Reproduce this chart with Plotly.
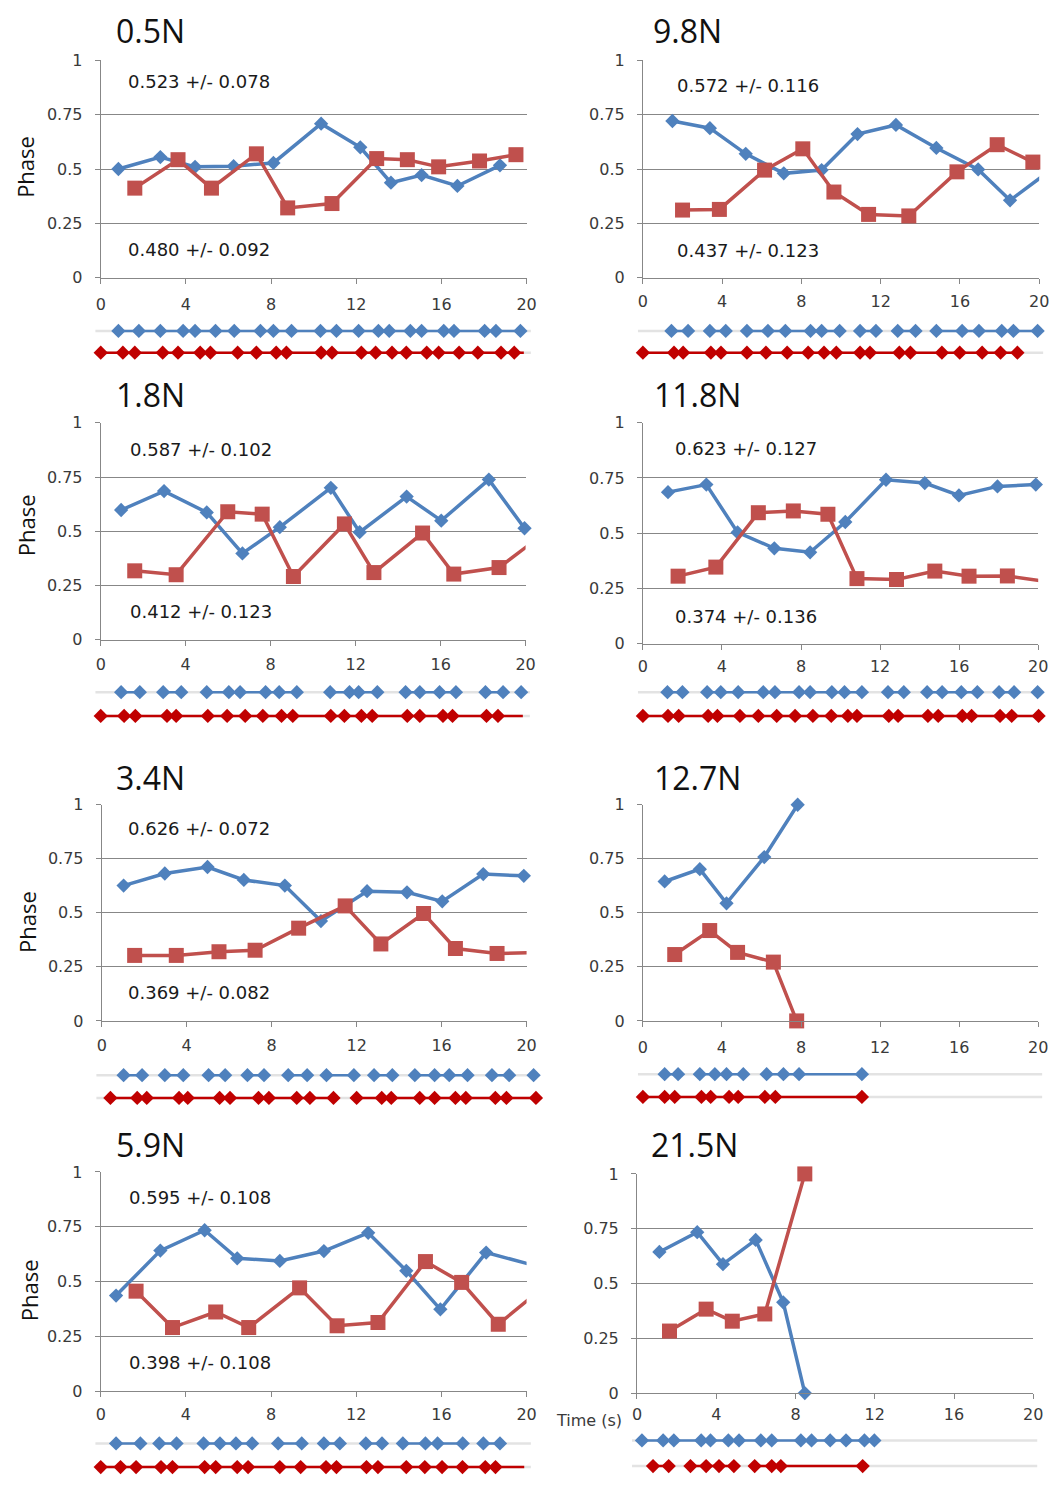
import plotly.graph_objects as go

# The page is 1062x1485; the browser adds an 8px body margin, so the figure starts at
# (8, 8) and every reference pixel position is shifted by that margin.
PAGE_W, PAGE_H = 1062, 1485
MARGIN = 8
W, H = PAGE_W - MARGIN, PAGE_H - MARGIN

BLUE = "#4F81BD"
RED = "#C0504D"
DRED = "#C00000"
GRID = "#878787"
STRIPGRAY = "#E3E3E3"
TICKFONT = dict(family="DejaVu Sans", size=16, color="#3a3a3a")

# ---------------- data (time in s, phase) ----------------
# 0.5N
A_bt = [0.83, 2.80, 4.43, 6.24, 8.11, 10.35, 12.19, 13.63, 15.07, 16.75, 18.75]
A_bv = [0.50, 0.555, 0.51, 0.513, 0.528, 0.709, 0.60, 0.437, 0.472, 0.422, 0.517]
A_rt = [1.6, 3.63, 5.2, 7.31, 8.78, 10.86, 12.96, 14.4, 15.87, 17.79, 19.5]
A_rv = [0.412, 0.543, 0.412, 0.570, 0.321, 0.341, 0.548, 0.543, 0.51, 0.537, 0.566]
A_sb = [0.83, 1.79, 2.8, 3.87, 4.43, 5.39, 6.27, 7.5, 8.11, 8.96, 10.32, 11.07, 12.11,
        13.04, 13.55, 14.54, 15.07, 16.11, 16.59, 18.03, 18.56, 19.71]
A_sr = [0, 1.04, 1.6, 2.91, 3.63, 4.67, 5.15, 6.43, 7.31, 8.24, 8.72, 10.35, 10.86, 12.24,
        12.91, 13.68, 14.35, 15.31, 15.87, 16.83, 17.71, 18.8, 19.42]
A_sr_end = 19.87

# 9.8N
B_bt = [1.49, 3.38, 5.19, 7.11, 9.02, 10.83, 12.77, 14.81, 16.92, 18.53, 20.5]
B_bv = [0.721, 0.688, 0.570, 0.480, 0.495, 0.661, 0.703, 0.597, 0.498, 0.356, 0.49]
B_rt = [2.0, 3.86, 6.14, 8.07, 9.64, 11.39, 13.42, 15.85, 17.88, 19.68]
B_rv = [0.311, 0.314, 0.495, 0.593, 0.394, 0.291, 0.284, 0.487, 0.612, 0.532]
B_sb = [1.44, 2.28, None, 3.38, 4.18, None, 5.25, 6.31, 7.19, 8.46, 9.02, 9.93, None,
        10.96, 11.76, None, 12.86, 13.76, None, 14.81, 16.11, 16.96, 18.11, 18.7, 19.92]
B_sr = [0, 1.57, 2.03, 3.43, 3.94, 5.25, 6.21, 7.28, 8.34, 9.14, 9.76, 10.96, 11.46,
        12.94, 13.5, 15.09, 15.99, 17.12, 18.05, 18.9]

# 1.8N
C_bt = [0.96, 2.98, 4.99, 6.67, 8.43, 10.83, 12.19, 14.4, 16.03, 18.27, 19.95]
C_bv = [0.598, 0.685, 0.587, 0.398, 0.519, 0.700, 0.496, 0.660, 0.549, 0.738, 0.514]
C_rt = [1.6, 3.55, 5.98, 7.6, 9.07, 11.47, 12.86, 15.15, 16.62, 18.75, 20.6]
C_rv = [0.318, 0.300, 0.590, 0.579, 0.292, 0.534, 0.310, 0.492, 0.303, 0.333, 0.47]
C_sb = [0.96, 1.84, None, 2.94, 3.79, None, 4.99, 6.03, 6.56, 7.76, 8.4, 9.23, None,
        10.8, 11.71, 12.14, 13.02, None, 14.35, 15.02, 15.95, 16.72, None, 18.11, 18.94,
        None, 19.79]
C_sr = [0, 1.1, 1.63, 3.12, 3.55, 5.04, 5.95, 6.8, 7.63, 8.51, 9.04, 10.83, 11.47, 12.27,
        12.78, 14.43, 15.02, 16.11, 16.56, 18.16, 18.7]
C_sr_end = 19.87

# 11.8N
D_bt = [1.27, 3.21, 4.79, 6.65, 8.46, 10.24, 12.3, 14.26, 15.99, 17.94, 19.88]
D_bv = [0.686, 0.720, 0.504, 0.432, 0.414, 0.551, 0.742, 0.727, 0.671, 0.712, 0.720]
D_rt = [1.78, 3.69, 5.84, 7.61, 9.36, 10.83, 12.83, 14.77, 16.5, 18.44, 20.5]
D_rv = [0.306, 0.347, 0.593, 0.601, 0.586, 0.295, 0.291, 0.329, 0.306, 0.307, 0.28]
D_sb = [1.24, 2.0, None, 3.25, 3.94, 4.82, 6.09, 6.68, 7.9, 8.46, 9.56, 10.2, 11.08, None,
        12.4, 13.2, None, 14.38, 15.14, 16.11, 16.92, None, 18.02, 18.78, None, 19.97]
D_sr = [0, 1.27, 1.81, 3.3, 3.77, 4.91, 5.84, 6.77, 7.7, 8.6, 9.53, 10.37, 10.83, 12.44,
        12.91, 14.42, 14.94, 16.16, 16.63, 18.07, 18.66, 20.02]

# 3.4N
E_bt = [1.03, 2.97, 4.98, 6.69, 8.62, 10.32, 12.49, 14.37, 16.03, 17.96, 19.87]
E_bv = [0.626, 0.682, 0.712, 0.652, 0.626, 0.462, 0.600, 0.595, 0.553, 0.679, 0.671]
E_rt = [1.55, 3.51, 5.52, 7.22, 9.27, 11.46, 13.14, 15.15, 16.65, 18.61, 20.6]
E_rv = [0.303, 0.303, 0.320, 0.327, 0.429, 0.532, 0.356, 0.497, 0.335, 0.312, 0.316]
E_sb = [1.03, 1.9, None, 2.97, 3.84, None, 5.03, 5.81, None, 6.86, 7.64, None, 8.78, 9.67,
        None, 10.58, 11.87, None, 12.82, 13.68, None, 14.74, 15.67, 16.36, 17.22, None,
        18.37, 19.18, None, 20.33]
E_sr = [0.41, 1.67, 2.12, 3.64, 4.05, 5.55, 6.04, 7.38, 7.87, 9.18, 9.8, 10.91, None, 12.0,
        13.18, 13.63, 14.97, 15.67, 16.65, 17.14, 18.53, 19.05, 20.44]

# 12.7N
F_bt = [1.1, 2.88, 4.23, 6.14, 7.83]
F_bv = [0.645, 0.702, 0.544, 0.758, 1.0]
F_rt = [1.61, 3.38, 4.79, 6.6, 7.78]
F_rv = [0.307, 0.418, 0.317, 0.272, 0.0]
F_sb = [1.1, 1.78, None, 2.88, 3.64, 4.23, 5.08, None, 6.26, 7.11, 7.9, 11.08]
F_sr = [0, 1.1, 1.61, 2.96, 3.43, 4.36, 4.82, 6.17, 6.7, 11.08]

# 5.9N
G_bt = [0.72, 2.8, 4.88, 6.41, 8.41, 10.48, 12.56, 14.35, 15.95, 18.1, 20.5]
G_bv = [0.436, 0.641, 0.734, 0.606, 0.594, 0.639, 0.722, 0.549, 0.373, 0.632, 0.57]
G_rt = [1.66, 3.37, 5.4, 6.95, 9.34, 11.1, 13.02, 15.25, 16.95, 18.67, 20.5]
G_rv = [0.456, 0.290, 0.361, 0.290, 0.471, 0.298, 0.313, 0.591, 0.496, 0.305, 0.45]
G_sb = [0.72, 1.86, None, 2.75, 3.56, None, 4.83, 5.6, 6.35, 7.11, None, 8.33, 9.44, None,
        10.48, 11.23, None, 12.45, 13.21, None, 14.19, 15.25, 15.82, 17.0, None, 17.97, 18.75]
G_sr = [0, 0.93, 1.66, 2.83, 3.37, 4.88, 5.4, 6.41, 6.92, 8.41, 9.39, 10.58, 11.07, 12.48,
        13.02, 14.35, 15.22, 16.03, 16.99, 18.06, 18.54]
G_sr_end = 19.89

# 21.5N
H_bt = [1.13, 3.04, 4.34, 5.99, 7.38, 8.47]
H_bv = [0.644, 0.734, 0.588, 0.699, 0.414, 0.0]
H_rt = [1.64, 3.49, 4.81, 6.45, 8.47]
H_rv = [0.283, 0.383, 0.328, 0.361, 1.0]
H_sb = [0.25, 1.32, 1.86, 3.24, 3.71, 4.61, 5.15, 6.25, 6.8, 8.27, 8.81, 9.75, 10.55,
        11.48, 11.98]
H_sr = [0.81, 1.6, None, 2.7, 3.49, 4.14, 4.89, None, 5.94, 6.8, 7.26, 11.39]

titles = ["0.5N", "9.8N", "1.8N", "11.8N", "3.4N", "12.7N", "5.9N", "21.5N"]
stats_top = ["0.523 +/- 0.078", "0.572 +/- 0.116", "0.587 +/- 0.102", "0.623 +/- 0.127",
             "0.626 +/- 0.072", None, "0.595 +/- 0.108", None]
stats_bot = ["0.480 +/- 0.092", "0.437 +/- 0.123", "0.412 +/- 0.123", "0.374 +/- 0.136",
             "0.369 +/- 0.082", None, "0.398 +/- 0.108", None]
x_ticks = [0, 4, 8, 12, 16, 20]
y_ticks = [0, 0.25, 0.5, 0.75, 1]
y_ticktext = ["0", "0.25", "0.5", "0.75", "1"]

# ---------------- layout geometry (page pixels) ----------------
series = [
    (A_bt, A_bv, A_rt, A_rv, A_sb, A_sr, None, A_sr_end),
    (B_bt, B_bv, B_rt, B_rv, B_sb, B_sr, None, None),
    (C_bt, C_bv, C_rt, C_rv, C_sb, C_sr, None, C_sr_end),
    (D_bt, D_bv, D_rt, D_rv, D_sb, D_sr, None, None),
    (E_bt, E_bv, E_rt, E_rv, E_sb, E_sr, None, None),
    (F_bt, F_bv, F_rt, F_rv, F_sb, F_sr, None, None),
    (G_bt, G_bv, G_rt, G_rv, G_sb, G_sr, None, G_sr_end),
    (H_bt, H_bv, H_rt, H_rv, H_sb, H_sr, None, None),
]
# (x0, x20, y1, y0) plot box, strip rows (blue y, red y), x-label standoff
geom = [
    ((97, 529, 52, 272), (326, 348), 7),
    ((647, 1049, 52, 272), (326, 348), 4),
    ((97, 528, 419, 639), (692, 716), 5),
    ((647, 1048, 419, 643), (692, 716), 3),
    ((98, 529, 806, 1025), (1080, 1103), 5),
    ((647, 1048, 806, 1025), (1079, 1102), 7),
    ((97, 529, 1178, 1400), (1453, 1477), 4),
    ((641, 1043, 1180, 1402), (1450, 1476), 2),
]
title_pos = [(110, 22), (655, 22), (110, 390), (656, 390), (110, 778), (656, 778),
             (110, 1150), (653, 1150)]
stats_pos = [(123, 73, 244), (680, 77, 245), (125, 446, 610), (678, 445, 615),
             (123, 830, 996), None, (124, 1204, 1371), None]
phase_pos = [(20, 160), None, (22, 523), None, (22, 925), None, (25, 1298), None]

fig = go.Figure()
layout = {}
annotations = []

PX_LEFT, PX_RIGHT = MARGIN, MARGIN + W
PX_TOP, PX_BOTTOM = MARGIN, MARGIN + H


def px_x(p):
    return min(1.0, max(0.0, (p - MARGIN) / W))


def px_y(p):
    return min(1.0, max(0.0, 1 - (p - MARGIN) / H))


for i in range(8):
    bt, bv, rt, rv, sb, sr, sb_end, sr_end = series[i]
    (x0, x20, y1, y0), (yb, yr), stand = geom[i]
    n1, n2 = 2 * i + 1, 2 * i + 2
    xs1, ys1 = ("x" if n1 == 1 else f"x{n1}"), ("y" if n1 == 1 else f"y{n1}")
    xs2, ys2 = f"x{n2}", f"y{n2}"
    xk1 = "xaxis" if n1 == 1 else f"xaxis{n1}"
    yk1 = "yaxis" if n1 == 1 else f"yaxis{n1}"
    xk2, yk2 = f"xaxis{n2}", f"yaxis{n2}"

    layout[xk1] = dict(domain=[px_x(x0), px_x(x20)], range=[0, 20], anchor=ys1,
                       tickvals=x_ticks, ticks="outside", ticklen=5, tickcolor=GRID,
                       showline=True, linecolor=GRID, linewidth=1, showgrid=False,
                       zeroline=False, tickfont=TICKFONT, ticklabelstandoff=stand,
                       fixedrange=True)
    layout[yk1] = dict(domain=[px_y(y0), px_y(y1)], range=[0, 1], anchor=xs1,
                       tickvals=y_ticks, ticktext=y_ticktext, ticks="outside", ticklen=5,
                       tickcolor=GRID, showline=True, linecolor=GRID, linewidth=1,
                       showgrid=True, gridcolor=GRID, gridwidth=1, zeroline=False,
                       tickfont=TICKFONT, ticklabelstandoff=9, fixedrange=True)

    # strip axes: same time scale as the plot; domains kept inside the figure and the
    # ranges derived from them so rows sit exactly at their pixel rows
    scale = (x20 - x0) / 20.0
    left_px = max(PX_LEFT, x0 - 1.0 * scale)
    right_px = min(PX_RIGHT - 1, x0 + 21.0 * scale)
    layout[xk2] = dict(domain=[px_x(left_px), px_x(right_px)],
                       range=[(left_px - x0) / scale, (right_px - x0) / scale],
                       anchor=ys2, visible=False, fixedrange=True)
    sp = yr - yb
    top_px = max(PX_TOP, yb - 0.5 * sp)
    bot_px = min(PX_BOTTOM - 1, yr + 0.5 * sp)
    layout[yk2] = dict(domain=[px_y(bot_px), px_y(top_px)],
                       range=[-(bot_px - yr) / sp, 1 + (yb - top_px) / sp],
                       anchor=xs2, visible=False, fixedrange=True)

    # phase series
    for t, v, col, sym, size in ((bt, bv, BLUE, "diamond", 11), (rt, rv, RED, "square", 15)):
        fig.add_trace(go.Scatter(
            x=t, y=v, xaxis=xs1, yaxis=ys1, mode="lines+markers",
            line=dict(color=col, width=3.5),
            marker=dict(symbol=sym, color=col, opacity=1,
                        size=[size if tt <= 20 else 0 for tt in t], line=dict(width=0)),
            cliponaxis=False, showlegend=False, hoverinfo="skip"))

    # strip: background gray lines
    for yy in (1, 0):
        fig.add_trace(go.Scatter(x=[-0.25, 20.2], y=[yy, yy], xaxis=xs2, yaxis=ys2,
                                 mode="lines", line=dict(color=STRIPGRAY, width=2.5),
                                 showlegend=False, hoverinfo="skip"))
    for times, end, yy, col in ((sb, sb_end, 1, BLUE), (sr, sr_end, 0, DRED)):
        if end is not None:
            last = [t for t in times if t is not None][-1]
            fig.add_trace(go.Scatter(x=[last, end], y=[yy, yy], xaxis=xs2, yaxis=ys2,
                                     mode="lines", line=dict(color=col, width=2.5),
                                     showlegend=False, hoverinfo="skip"))
        fig.add_trace(go.Scatter(
            x=times, y=[yy if t is not None else None for t in times], xaxis=xs2, yaxis=ys2,
            mode="lines+markers", connectgaps=False, line=dict(color=col, width=2.5),
            marker=dict(symbol="diamond", color=col, size=11, opacity=1, line=dict(width=0)),
            cliponaxis=False, showlegend=False, hoverinfo="skip"))

    # title
    tx, ty = title_pos[i]
    annotations.append(dict(text=titles[i], x=px_x(tx), y=px_y(ty), xref="paper", yref="paper",
                            xanchor="left", yanchor="middle", showarrow=False,
                            font=dict(family="Open Sans", size=32, color="#111111")))
    if stats_pos[i] is not None:
        sx, sty, sby = stats_pos[i]
        for txt, yy in ((stats_top[i], sty), (stats_bot[i], sby)):
            annotations.append(dict(text=txt, x=px_x(sx), y=px_y(yy), xref="paper",
                                    yref="paper", xanchor="left", yanchor="middle",
                                    showarrow=False,
                                    font=dict(family="DejaVu Sans", size=18, color="#1a1a1a")))
    if phase_pos[i] is not None:
        fx, fy = phase_pos[i]
        annotations.append(dict(text="Phase", x=px_x(fx), y=px_y(fy), xref="paper",
                                yref="paper", xanchor="center", yanchor="middle",
                                textangle=-90, showarrow=False,
                                font=dict(family="Open Sans", size=22, color="#111111")))

annotations.append(dict(text="Time (s)", x=px_x(592), y=px_y(1430), xref="paper",
                        yref="paper", xanchor="center", yanchor="middle", showarrow=False,
                        font=dict(family="DejaVu Sans", size=16, color="#3a3a3a")))

fig.update_layout(width=W, height=H, margin=dict(l=0, r=0, t=0, b=0),
                  paper_bgcolor="white", plot_bgcolor="white",
                  annotations=annotations, showlegend=False, **layout)

fig.write_html("out.html", config={"displayModeBar": False})
